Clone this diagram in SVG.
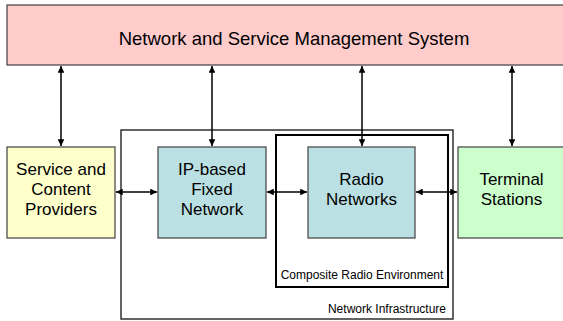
<svg xmlns="http://www.w3.org/2000/svg" width="563" height="321" viewBox="0 0 563 321">
<defs>
<style>
.lbl{font-family:"Liberation Sans",Arial,sans-serif;fill:#000;text-anchor:middle}
.big{font-size:17px}
.sm{font-size:12px}
.box{stroke:#404040;stroke-width:1.2}
.con{stroke:#000;stroke-width:1.5;fill:none;marker-start:url(#ah);marker-end:url(#ah)}
</style>
<marker id="ah" viewBox="0 0 10 10" refX="10" refY="5" markerWidth="4.5" markerHeight="4.5" orient="auto-start-reverse" markerUnits="strokeWidth">
<path d="M0,0 L10,5 L0,10 z" fill="#000"/>
</marker>
</defs>
<rect width="563" height="321" fill="#fff"/>
<g id="network-infrastructure">
<rect x="121" y="130" width="332" height="189" fill="none" stroke="#222" stroke-width="1.4"/>
<text class="lbl sm" x="446" y="313" style="text-anchor:end">Network Infrastructure</text>
</g>
<g id="composite-radio-environment">
<rect x="276" y="135" width="172" height="152" fill="none" stroke="#000" stroke-width="2"/>
<text class="lbl sm" x="362" y="279">Composite Radio Environment</text>
</g>
<g id="management-system">
<rect class="box" x="7" y="5" width="560" height="60" fill="#FFCCCC"/>
<text class="lbl" x="294" y="45" style="font-size:18.5px">Network and Service Management System</text>
</g>
<g id="service-providers">
<rect class="box" x="7" y="147" width="108" height="91" fill="#FFFFCC"/>
<text class="lbl big" x="61" y="175">Service and</text>
<text class="lbl big" x="61" y="195">Content</text>
<text class="lbl big" x="61" y="215">Providers</text>
</g>
<g id="ip-fixed-network">
<rect class="box" x="158" y="147" width="108" height="91" fill="#BBE0E3"/>
<text class="lbl big" x="212" y="175">IP-based</text>
<text class="lbl big" x="212" y="195">Fixed</text>
<text class="lbl big" x="212" y="215">Network</text>
</g>
<g id="radio-networks">
<rect class="box" x="308" y="147" width="107" height="91" fill="#BBE0E3"/>
<text class="lbl big" x="361.5" y="185">Radio</text>
<text class="lbl big" x="361.5" y="205">Networks</text>
</g>
<g id="terminal-stations">
<rect class="box" x="458" y="147" width="110" height="91" fill="#CCFFCC"/>
<text class="lbl big" x="511.5" y="185">Terminal</text>
<text class="lbl big" x="511.5" y="205">Stations</text>
</g>
<g id="connectors">
<line class="con" x1="61" y1="66" x2="61" y2="146"/>
<line class="con" x1="212" y1="66" x2="212" y2="146"/>
<line class="con" x1="362" y1="66" x2="362" y2="146"/>
<line class="con" x1="512" y1="66" x2="512" y2="146"/>
<line class="con" x1="116" y1="192" x2="157" y2="192"/>
<line class="con" x1="267" y1="192" x2="307" y2="192"/>
<line class="con" x1="416" y1="192" x2="457" y2="192"/>
</g>
</svg>
